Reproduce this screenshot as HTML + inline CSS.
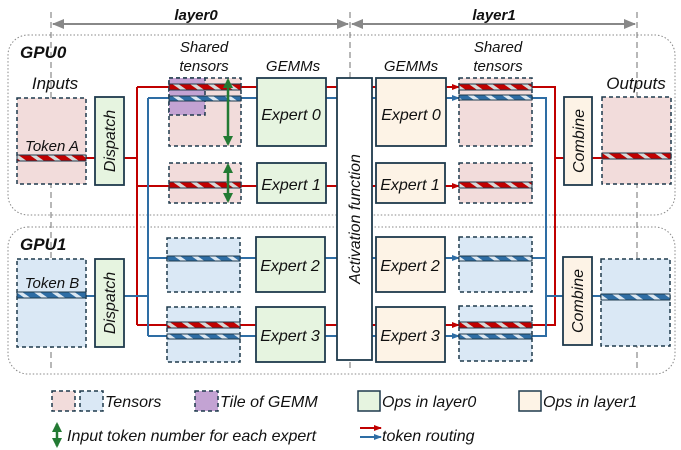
<!DOCTYPE html>
<html><head><meta charset="utf-8"><style>
html,body{margin:0;padding:0;background:#fff;}
svg{display:block;}
text{font-family:"Liberation Sans",sans-serif;font-style:italic;fill:#111;}
</style></head><body>
<svg width="681" height="450" viewBox="0 0 681 450" xmlns="http://www.w3.org/2000/svg">
<defs>
<pattern id="rs" width="10" height="10" patternUnits="userSpaceOnUse" patternTransform="rotate(-55)">
<rect width="10" height="10" fill="#c00000"/><rect width="3.5" height="10" fill="#d8d8d8"/></pattern>
<pattern id="bs" width="10" height="10" patternUnits="userSpaceOnUse" patternTransform="rotate(-55)">
<rect width="10" height="10" fill="#2e6da4"/><rect width="3.5" height="10" fill="#dce8f2"/></pattern>
<marker id="ar" markerUnits="userSpaceOnUse" markerWidth="8" markerHeight="8" refX="7" refY="4" orient="auto"><path d="M0,1 L8,4 L0,7z" fill="#c00000"/></marker>
<marker id="ab" markerUnits="userSpaceOnUse" markerWidth="8" markerHeight="8" refX="7" refY="4" orient="auto"><path d="M0,1 L8,4 L0,7z" fill="#2e6da4"/></marker>
<marker id="ag" markerUnits="userSpaceOnUse" markerWidth="10" markerHeight="10" refX="8" refY="5" orient="auto-start-reverse"><path d="M0,0 L10,5 L0,10z" fill="#237a33"/></marker>
<marker id="gy" markerUnits="userSpaceOnUse" markerWidth="12" markerHeight="12" refX="11" refY="6" orient="auto-start-reverse"><path d="M0,1 L12,6 L0,11z" fill="#888"/></marker>
</defs>

<rect x="8" y="35" width="667" height="180" rx="20" fill="none" stroke="#888" stroke-dasharray="1.5,2"/>
<rect x="8" y="227" width="667" height="147" rx="20" fill="none" stroke="#888" stroke-dasharray="1.5,2"/>

<g stroke="#888" stroke-dasharray="6,4" stroke-width="1.2">
<line x1="51" y1="12" x2="51" y2="372"/><line x1="350" y1="12" x2="350" y2="372"/><line x1="637" y1="12" x2="637" y2="372"/>
</g>
<line x1="53" y1="24" x2="348" y2="24" stroke="#888" stroke-width="2" marker-start="url(#gy)" marker-end="url(#gy)"/>
<line x1="352" y1="24" x2="635" y2="24" stroke="#888" stroke-width="2" marker-start="url(#gy)" marker-end="url(#gy)"/>
<text x="196" y="20" font-size="15" font-weight="bold" text-anchor="middle">layer0</text>
<text x="494" y="20" font-size="15" font-weight="bold" text-anchor="middle">layer1</text>

<text x="20" y="58" font-size="17" font-weight="bold">GPU0</text>
<text x="20" y="250" font-size="17" font-weight="bold">GPU1</text>
<text x="55" y="89" font-size="17" text-anchor="middle">Inputs</text>
<text x="636" y="89" font-size="17" text-anchor="middle">Outputs</text>
<text x="204" y="52" font-size="15" text-anchor="middle">Shared</text>
<text x="204" y="71" font-size="15" text-anchor="middle">tensors</text>
<text x="498" y="52" font-size="15" text-anchor="middle">Shared</text>
<text x="498" y="71" font-size="15" text-anchor="middle">tensors</text>
<text x="293" y="71" font-size="15" text-anchor="middle">GEMMs</text>
<text x="411" y="71" font-size="15" text-anchor="middle">GEMMs</text>

<g fill="none" stroke-width="2">
<path d="M124,158 H137 M137,87 V325 M137,87 H257 M137,186 H257 M137,325 H256" stroke="#c00000"/>
<path d="M124,296 H148 M148,98 V336 M148,98 H257 M148,258 H256 M148,336 H256" stroke="#2e6da4"/>
<path d="M326,87 H337 M372,87 H376 M326,186 H337 M372,186 H376 M325,325 H337 M372,325 H376" stroke="#c00000"/>
<path d="M326,98 H337 M372,98 H376 M325,258 H337 M372,258 H376 M325,336 H337 M372,336 H376" stroke="#2e6da4"/>
<path d="M532,87 H555 V325 H532 M555,158 H564 M592,158 H602" stroke="#c00000"/>
<path d="M532,98 H546 V336 H532 M532,258 H546 M546,296 H563 M592,296 H601" stroke="#2e6da4"/>
<path d="M86,158 H95" stroke="#c00000"/>
<path d="M86,296 H95" stroke="#2e6da4"/>
</g>
<g stroke-width="2">
<line x1="446" y1="87" x2="459" y2="87" stroke="#c00000" marker-end="url(#ar)"/>
<line x1="445" y1="186" x2="459" y2="186" stroke="#c00000" marker-end="url(#ar)"/>
<line x1="445" y1="325" x2="459" y2="325" stroke="#c00000" marker-end="url(#ar)"/>
<line x1="446" y1="98" x2="459" y2="98" stroke="#2e6da4" marker-end="url(#ab)"/>
<line x1="445" y1="258" x2="459" y2="258" stroke="#2e6da4" marker-end="url(#ab)"/>
<line x1="445" y1="336" x2="459" y2="336" stroke="#2e6da4" marker-end="url(#ab)"/>
</g>

<g stroke="#1f3a4d" stroke-width="1.5" stroke-dasharray="4,3">
<rect x="17" y="98" width="69" height="86" fill="#f2dcdb"/>
<rect x="17" y="259" width="69" height="88" fill="#dae8f5"/>
<rect x="169" y="78" width="72" height="68" fill="#f2dcdb"/>
<rect x="169" y="78" width="36" height="37" fill="#c3a3d3"/>
<rect x="169" y="163" width="72" height="40" fill="#f2dcdb"/>
<rect x="167" y="238" width="73" height="54" fill="#dae8f5"/>
<rect x="167" y="307" width="73" height="55" fill="#dae8f5"/>
<rect x="459" y="78" width="73" height="68" fill="#f2dcdb"/>
<rect x="459" y="163" width="73" height="40" fill="#f2dcdb"/>
<rect x="459" y="237" width="73" height="55" fill="#dae8f5"/>
<rect x="459" y="306" width="73" height="55" fill="#dae8f5"/>
<rect x="602" y="97" width="69" height="87" fill="#f2dcdb"/>
<rect x="601" y="259" width="69" height="87" fill="#dae8f5"/>
</g>
<g stroke="#1f3a4d" stroke-width="1">
<rect x="17" y="155" width="69" height="6" fill="url(#rs)"/>
<rect x="17" y="292" width="69" height="6" fill="url(#bs)"/>
<rect x="169" y="84" width="72" height="6" fill="url(#rs)"/>
<rect x="169" y="96" width="72" height="5" fill="url(#bs)"/>
<rect x="169" y="182" width="72" height="6" fill="url(#rs)"/>
<rect x="167" y="256" width="73" height="5" fill="url(#bs)"/>
<rect x="167" y="322" width="73" height="6" fill="url(#rs)"/>
<rect x="167" y="334" width="73" height="5" fill="url(#bs)"/>
<rect x="459" y="84" width="73" height="6" fill="url(#rs)"/>
<rect x="459" y="95" width="73" height="5" fill="url(#bs)"/>
<rect x="459" y="182" width="73" height="6" fill="url(#rs)"/>
<rect x="459" y="256" width="73" height="5" fill="url(#bs)"/>
<rect x="459" y="322" width="73" height="6" fill="url(#rs)"/>
<rect x="459" y="334" width="73" height="5" fill="url(#bs)"/>
<rect x="602" y="153" width="69" height="6" fill="url(#rs)"/>
<rect x="601" y="294" width="69" height="6" fill="url(#bs)"/>
</g>
<text x="52" y="151" font-size="15" text-anchor="middle">Token A</text>
<text x="52" y="288" font-size="15" text-anchor="middle">Token B</text>

<g stroke="#237a33" stroke-width="2.5">
<line x1="228" y1="80" x2="228" y2="144" marker-start="url(#ag)" marker-end="url(#ag)"/>
<line x1="228" y1="165" x2="228" y2="201" marker-start="url(#ag)" marker-end="url(#ag)"/>
</g>

<g stroke="#1f3a4d" stroke-width="1.8">
<rect x="95" y="97" width="29" height="88" fill="#e6f4e0"/>
<rect x="95" y="259" width="29" height="88" fill="#e6f4e0"/>
<rect x="257" y="78" width="69" height="68" fill="#e6f4e0"/>
<rect x="257" y="163" width="69" height="40" fill="#e6f4e0"/>
<rect x="256" y="237" width="69" height="55" fill="#e6f4e0"/>
<rect x="256" y="307" width="69" height="55" fill="#e6f4e0"/>
<rect x="337" y="78" width="35" height="282" fill="#fff"/>
<rect x="376" y="78" width="70" height="68" fill="#fdf3e6"/>
<rect x="376" y="163" width="69" height="40" fill="#fdf3e6"/>
<rect x="376" y="237" width="69" height="55" fill="#fdf3e6"/>
<rect x="376" y="307" width="69" height="55" fill="#fdf3e6"/>
<rect x="564" y="97" width="28" height="88" fill="#fdf3e6"/>
<rect x="563" y="257" width="29" height="88" fill="#fdf3e6"/>
</g>
<g font-size="16" text-anchor="middle">
<text x="291" y="120">Expert 0</text><text x="291" y="190">Expert 1</text>
<text x="290" y="271">Expert 2</text><text x="290" y="341">Expert 3</text>
<text x="411" y="120">Expert 0</text><text x="410" y="190">Expert 1</text>
<text x="410" y="271">Expert 2</text><text x="410" y="341">Expert 3</text>
<text transform="translate(115,141) rotate(-90)">Dispatch</text>
<text transform="translate(115,303) rotate(-90)">Dispatch</text>
<text transform="translate(584,141) rotate(-90)">Combine</text>
<text transform="translate(583,301) rotate(-90)">Combine</text>
<text transform="translate(360,219) rotate(-90)">Activation function</text>
</g>

<g stroke="#1f3a4d" stroke-width="1.5">
<rect x="52" y="391" width="23" height="20" fill="#f2dcdb" stroke-dasharray="4,3"/>
<rect x="80" y="391" width="23" height="20" fill="#dae8f5" stroke-dasharray="4,3"/>
<rect x="195" y="391" width="23" height="20" fill="#c3a3d3" stroke-dasharray="4,3"/>
<rect x="358" y="391" width="22" height="20" fill="#e6f4e0"/>
<rect x="519" y="391" width="22" height="20" fill="#fdf3e6"/>
</g>
<g font-size="16">
<text x="105" y="407">Tensors</text>
<text x="220" y="407">Tile of GEMM</text>
<text x="382" y="407">Ops in layer0</text>
<text x="543" y="407">Ops in layer1</text>
<text x="67" y="441">Input token number for each expert</text>
<text x="382" y="441">token routing</text>
</g>
<line x1="57" y1="424" x2="57" y2="446" stroke="#237a33" stroke-width="2.5" marker-start="url(#ag)" marker-end="url(#ag)"/>
<line x1="360" y1="428" x2="381" y2="428" stroke="#c00000" stroke-width="2" marker-end="url(#ar)"/>
<line x1="360" y1="437" x2="381" y2="437" stroke="#2e6da4" stroke-width="2" marker-end="url(#ab)"/>
</svg>
</body></html>
